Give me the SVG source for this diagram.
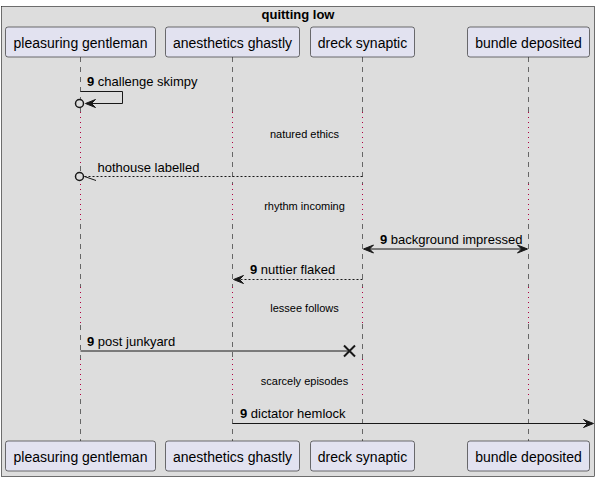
<svg xmlns="http://www.w3.org/2000/svg" width="599" height="482" viewBox="0 0 599 482">
<style>
.bg{fill:#FFFFFF}
.frame{fill:#DDDDDD;stroke:#181818;stroke-width:0.6}
.title{font-family:"Liberation Sans",Arial,sans-serif;font-size:13px;font-weight:bold;fill:#000;text-anchor:middle}
.pbox{fill:#E2E2F0;stroke:#181818;stroke-width:0.6}
.ptext{font-family:"Liberation Sans",Arial,sans-serif;font-size:14px;fill:#000;text-anchor:middle}
.life{stroke:#181818;stroke-width:0.6;stroke-dasharray:5,5;fill:none}
.delayl{stroke:#B00040;stroke-width:1;stroke-dasharray:1,4;fill:none}
.msg{stroke:#181818;stroke-width:1;fill:none}
.dash{stroke-dasharray:2,2}
.head{fill:#181818;stroke:#181818;stroke-width:1}
.mtext{font-family:"Liberation Sans",Arial,sans-serif;font-size:13px;fill:#000}
.num{font-weight:bold}
.dtext{font-family:"Liberation Sans",Arial,sans-serif;font-size:11px;fill:#000;text-anchor:middle}
.circ{fill:#DDDDDD;stroke:#181818;stroke-width:1.5}
</style>
<rect class="bg" x="0" y="0" width="599" height="482"/>
<g id="frame">
<rect class="frame" x="1.5" y="6.5" width="593" height="470"/>
<text class="title" x="298" y="19">quitting low</text>
</g>
<g id="p1">
<path class="life" d="M80.5,57 V112 M80.5,166 V184 M80.5,224 V287 M80.5,325 V359 M80.5,399 V441"/>
<path class="delayl" d="M80.5,112 V166 M80.5,184 V224 M80.5,287 V325 M80.5,359 V399"/>
<rect class="pbox" x="5.5" y="27" width="150" height="30" rx="2.5"/>
<text class="ptext" x="80.5" y="48">pleasuring gentleman</text>
<rect class="pbox" x="5.5" y="441" width="150" height="30" rx="2.5"/>
<text class="ptext" x="80.5" y="462">pleasuring gentleman</text>
</g>
<g id="p2">
<path class="life" d="M232.5,57 V112 M232.5,152 V184 M232.5,224 V287 M232.5,322 V359 M232.5,399 V441"/>
<path class="delayl" d="M232.5,112 V152 M232.5,184 V224 M232.5,287 V322 M232.5,359 V399"/>
<rect class="pbox" x="165.5" y="27" width="134" height="30" rx="2.5"/>
<text class="ptext" x="232.5" y="48">anesthetics ghastly</text>
<rect class="pbox" x="165.5" y="441" width="134" height="30" rx="2.5"/>
<text class="ptext" x="232.5" y="462">anesthetics ghastly</text>
</g>
<g id="p3">
<path class="life" d="M362.5,57 V112 M362.5,152 V184 M362.5,224 V287 M362.5,324 V359 M362.5,399 V441"/>
<path class="delayl" d="M362.5,112 V152 M362.5,184 V224 M362.5,287 V324 M362.5,359 V399"/>
<rect class="pbox" x="310.5" y="27" width="104" height="30" rx="2.5"/>
<text class="ptext" x="362.5" y="48">dreck synaptic</text>
<rect class="pbox" x="310.5" y="441" width="104" height="30" rx="2.5"/>
<text class="ptext" x="362.5" y="462">dreck synaptic</text>
</g>
<g id="p4">
<path class="life" d="M528.5,57 V112 M528.5,152 V184 M528.5,224 V287 M528.5,324 V359 M528.5,399 V441"/>
<path class="delayl" d="M528.5,112 V152 M528.5,184 V224 M528.5,287 V324 M528.5,359 V399"/>
<rect class="pbox" x="467.5" y="27" width="122" height="30" rx="2.5"/>
<text class="ptext" x="528.5" y="48">bundle deposited</text>
<rect class="pbox" x="467.5" y="441" width="122" height="30" rx="2.5"/>
<text class="ptext" x="528.5" y="462">bundle deposited</text>
</g>
<g id="delays">
<text class="dtext" x="304.5" y="137.5">natured ethics</text>
<text class="dtext" x="304.5" y="209.5">rhythm incoming</text>
<text class="dtext" x="304.5" y="311.5">lessee follows</text>
<text class="dtext" x="304.5" y="384.5">scarcely episodes</text>
</g>
<g id="connectors">
<g id="m1">
<polyline class="msg" points="80.5,91.5 122.5,91.5 122.5,103.5 88,103.5"/>
<polygon class="head" points="85.5,103.5 95.5,99.5 91.5,103.5 95.5,107.5"/>
<circle class="circ" cx="79.5" cy="103.5" r="4"/>
<text class="mtext" x="87" y="86"><tspan class="num">9</tspan> challenge skimpy</text>
</g>
<g id="m2">
<line class="msg dash" x1="362.5" y1="176.5" x2="84" y2="176.5"/>
<line class="msg" x1="84.5" y1="176.5" x2="96" y2="180.5"/>
<circle class="circ" cx="79.5" cy="176.5" r="4"/>
<text class="mtext" x="97.5" y="171.5">hothouse labelled</text>
</g>
<g id="m3">
<line class="msg" x1="364" y1="249" x2="527" y2="249"/>
<polygon class="head" points="363.5,249 373.5,245 369.5,249 373.5,253"/>
<polygon class="head" points="527.5,249 517.5,245 521.5,249 517.5,253"/>
<text class="mtext" x="380" y="244"><tspan class="num">9</tspan> background impressed</text>
</g>
<g id="m4">
<line class="msg dash" x1="362.5" y1="279.5" x2="235" y2="279.5"/>
<polygon class="head" points="233.5,279.5 243.5,275.5 239.5,279.5 243.5,283.5"/>
<text class="mtext" x="250" y="274"><tspan class="num">9</tspan> nuttier flaked</text>
</g>
<g id="m5">
<line class="msg" x1="80.5" y1="351" x2="349" y2="351"/>
<path class="msg" style="stroke-width:2" d="M344,345.5 L355,356.5 M344,356.5 L355,345.5"/>
<text class="mtext" x="87" y="345.5"><tspan class="num">9</tspan> post junkyard</text>
</g>
<g id="m6">
<line class="msg" x1="232.5" y1="423.5" x2="592" y2="423.5"/>
<polygon class="head" points="593.5,423.5 583.5,419.5 587.5,423.5 583.5,427.5"/>
<text class="mtext" x="240" y="418"><tspan class="num">9</tspan> dictator hemlock</text>
</g>
</g>
</svg>
